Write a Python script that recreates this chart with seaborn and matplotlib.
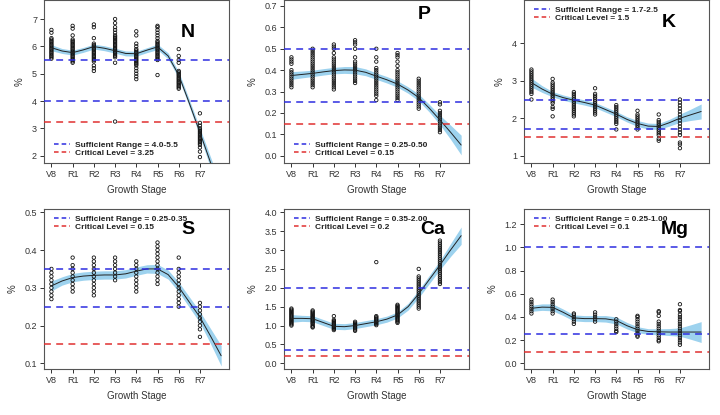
import numpy as np
import pandas as pd
import seaborn as sns
import matplotlib
matplotlib.use('Agg')
import matplotlib.pyplot as plt
from matplotlib.lines import Line2D

stages = ['V8', 'R1', 'R2', 'R3', 'R4', 'R5', 'R6', 'R7']
fit_x = [0, 0.5, 1, 1.5, 2, 2.5, 3, 3.5, 4, 4.5, 5, 5.5, 6, 6.5, 7, 7.5, 8]

n_obs = [
    [6.6, 6.5, 6.3, 6.25, 6.2, 6.15, 6.1, 6.05, 6.0, 5.95, 5.9, 5.85, 5.8, 5.75, 5.7, 5.65, 5.6, 5.55],
    [6.75, 6.65, 6.4, 6.25, 6.2, 6.15, 6.1, 6.05, 6.0, 5.95, 5.9, 5.85, 5.8, 5.75, 5.7, 5.65, 5.6, 5.55, 5.5, 5.45, 5.4],
    [6.8, 6.7, 6.3, 6.1, 6.05, 6.0, 5.95, 5.9, 5.85, 5.8, 5.75, 5.7, 5.65, 5.6, 5.55, 5.5, 5.45, 5.3, 5.2, 5.1],
    [7.0, 6.85, 6.7, 6.6, 6.5, 6.4, 6.35, 6.3, 6.25, 6.2, 6.15, 6.1, 6.05, 6.0, 5.95, 5.9, 5.85, 5.8, 5.75, 5.7, 5.65, 5.6, 5.4, 3.25],
    [6.55, 6.4, 6.1, 6.0, 5.9, 5.85, 5.8, 5.75, 5.7, 5.65, 5.6, 5.55, 5.5, 5.45, 5.4, 5.35, 5.3, 5.2, 5.1, 5.0, 4.9, 4.8],
    [6.75, 6.7, 6.6, 6.5, 6.4, 6.3, 6.2, 6.15, 6.1, 6.05, 6.0, 5.95, 5.9, 5.85, 5.8, 5.75, 5.7, 5.65, 5.6, 5.55, 5.5, 4.95],
    [5.9, 5.65, 5.5, 5.4, 5.1, 5.05, 5.0, 4.95, 4.9, 4.85, 4.8, 4.75, 4.7, 4.65, 4.6, 4.55, 4.5, 4.45],
    [3.55, 3.2, 3.1, 3.0, 2.95, 2.9, 2.85, 2.8, 2.75, 2.7, 2.65, 2.6, 2.55, 2.5, 2.45, 2.4, 2.3, 2.15, 1.95],
]
p_obs = [
    [0.46, 0.45, 0.44, 0.43, 0.40, 0.39, 0.38, 0.37, 0.36, 0.35, 0.34, 0.33, 0.32],
    [0.50, 0.49, 0.48, 0.47, 0.46, 0.45, 0.44, 0.43, 0.42, 0.41, 0.40, 0.39, 0.38, 0.37, 0.36, 0.35, 0.34, 0.33, 0.32],
    [0.52, 0.51, 0.50, 0.48, 0.46, 0.45, 0.44, 0.43, 0.42, 0.41, 0.40, 0.39, 0.38, 0.37, 0.36, 0.35, 0.34, 0.33, 0.32, 0.31],
    [0.54, 0.53, 0.52, 0.50, 0.46, 0.44, 0.43, 0.42, 0.41, 0.40, 0.39, 0.38, 0.37, 0.36, 0.35, 0.34],
    [0.50, 0.46, 0.44, 0.41, 0.40, 0.39, 0.38, 0.37, 0.36, 0.35, 0.34, 0.33, 0.32, 0.31, 0.30, 0.29, 0.28, 0.26],
    [0.48, 0.47, 0.46, 0.44, 0.42, 0.40, 0.39, 0.38, 0.37, 0.36, 0.35, 0.34, 0.33, 0.32, 0.31, 0.30, 0.29, 0.28, 0.27, 0.26],
    [0.36, 0.35, 0.34, 0.33, 0.32, 0.31, 0.30, 0.29, 0.28, 0.27, 0.26, 0.25, 0.24, 0.23, 0.22],
    [0.25, 0.24, 0.21, 0.20, 0.19, 0.18, 0.17, 0.16, 0.15, 0.14, 0.13, 0.12, 0.11],
]
k_obs = [
    [3.3, 3.25, 3.2, 3.15, 3.1, 3.05, 3.0, 2.95, 2.9, 2.85, 2.8, 2.75, 2.7, 2.65, 2.5],
    [3.05, 2.95, 2.9, 2.85, 2.8, 2.75, 2.7, 2.65, 2.6, 2.55, 2.5, 2.45, 2.4, 2.3, 2.25, 2.05],
    [2.7, 2.65, 2.6, 2.55, 2.5, 2.45, 2.4, 2.35, 2.3, 2.25, 2.2, 2.15, 2.1, 2.05],
    [2.8, 2.65, 2.6, 2.55, 2.5, 2.45, 2.4, 2.35, 2.3, 2.25, 2.2, 2.15, 2.1],
    [2.35, 2.3, 2.25, 2.2, 2.15, 2.1, 2.05, 2.0, 1.95, 1.9, 1.85, 1.7],
    [2.2, 2.1, 2.05, 2.0, 1.95, 1.9, 1.85, 1.8, 1.75, 1.7],
    [2.1, 1.95, 1.9, 1.85, 1.8, 1.75, 1.7, 1.65, 1.6, 1.55, 1.45, 1.4],
    [2.5, 2.42, 2.34, 2.26, 2.18, 2.1, 2.02, 1.94, 1.86, 1.78, 1.7, 1.62, 1.55, 1.35, 1.3, 1.2],
]
s_obs = [
    [0.35, 0.34, 0.33, 0.32, 0.31, 0.30, 0.29, 0.28, 0.27],
    [0.38, 0.36, 0.35, 0.34, 0.33, 0.32, 0.31, 0.30, 0.29],
    [0.38, 0.37, 0.36, 0.35, 0.34, 0.33, 0.32, 0.31, 0.30, 0.29, 0.28],
    [0.38, 0.37, 0.36, 0.35, 0.34, 0.33, 0.32],
    [0.37, 0.36, 0.35, 0.34, 0.33, 0.32, 0.31, 0.30, 0.29],
    [0.42, 0.41, 0.40, 0.39, 0.38, 0.37, 0.36, 0.35, 0.34, 0.33, 0.32, 0.31],
    [0.38, 0.35, 0.34, 0.33, 0.32, 0.31, 0.30, 0.29, 0.28, 0.27, 0.26, 0.25],
    [0.26, 0.25, 0.24, 0.23, 0.22, 0.21, 0.20, 0.19, 0.17],
]
ca_obs = [
    [1.45, 1.42, 1.39, 1.36, 1.33, 1.3, 1.27, 1.24, 1.21, 1.18, 1.15, 1.12, 1.09, 1.06, 1.03, 1.0],
    [1.4, 1.37, 1.34, 1.31, 1.28, 1.25, 1.22, 1.19, 1.16, 1.13, 1.1, 1.07, 1.04, 1.0, 0.97, 0.95],
    [1.25, 1.15, 1.12, 1.09, 1.06, 1.03, 1.0, 0.97, 0.94, 0.91, 0.88],
    [1.1, 1.07, 1.04, 1.01, 0.98, 0.95, 0.92, 0.89, 0.86],
    [2.68, 1.25, 1.22, 1.19, 1.16, 1.13, 1.1, 1.07, 1.04, 1.01],
    [1.55, 1.52, 1.49, 1.46, 1.43, 1.4, 1.37, 1.34, 1.31, 1.28, 1.25, 1.22, 1.19, 1.16, 1.13, 1.1, 1.07],
    [2.5, 2.3, 2.25, 2.2, 2.15, 2.1, 2.05, 2.0, 1.95, 1.9, 1.85, 1.8, 1.75, 1.7, 1.65, 1.6, 1.55, 1.5, 1.45],
    [3.25, 3.2, 3.15, 3.1, 3.05, 3.0, 2.95, 2.9, 2.85, 2.8, 2.75, 2.7, 2.65, 2.6, 2.55, 2.5, 2.45, 2.4, 2.35, 2.3, 2.25, 2.2, 2.15, 2.1],
]
mg_obs = [
    [0.55, 0.53, 0.51, 0.49, 0.47, 0.45, 0.43],
    [0.55, 0.53, 0.51, 0.49, 0.47, 0.45, 0.43],
    [0.43, 0.42, 0.40, 0.38, 0.36, 0.34],
    [0.44, 0.42, 0.40, 0.38, 0.36],
    [0.38, 0.36, 0.34, 0.32, 0.30, 0.28, 0.27],
    [0.41, 0.40, 0.38, 0.36, 0.34, 0.32, 0.30, 0.28, 0.26, 0.24, 0.23],
    [0.45, 0.44, 0.41, 0.36, 0.34, 0.32, 0.30, 0.28, 0.26, 0.24, 0.22, 0.20, 0.19],
    [0.51, 0.46, 0.45, 0.42, 0.40, 0.38, 0.36, 0.34, 0.32, 0.30, 0.28, 0.26, 0.24, 0.22, 0.20, 0.18, 0.16],
]

# smoothed fit and band half-width at fit_x
n_fit = [5.95, 5.83, 5.77, 5.87, 5.99, 5.93, 5.84, 5.74, 5.73, 5.86, 5.98, 5.65, 4.95, 3.92, 2.85, 1.75, 0.65]
n_se = [0.11, 0.09, 0.09, 0.09, 0.09, 0.09, 0.09, 0.09, 0.09, 0.09, 0.1, 0.11, 0.12, 0.13, 0.15, 0.2, 0.25]
p_fit = [0.375, 0.38, 0.385, 0.392, 0.398, 0.401, 0.40, 0.39, 0.372, 0.355, 0.335, 0.307, 0.272, 0.222, 0.167, 0.11, 0.05]
p_se = [0.018, 0.016, 0.015, 0.015, 0.015, 0.016, 0.017, 0.016, 0.015, 0.015, 0.015, 0.015, 0.016, 0.018, 0.022, 0.033, 0.046]
k_fit = [2.95, 2.78, 2.64, 2.55, 2.48, 2.42, 2.35, 2.23, 2.11, 1.97, 1.86, 1.79, 1.78, 1.88, 2.0, 2.09, 2.18]
k_se = [0.12, 0.09, 0.07, 0.07, 0.07, 0.07, 0.07, 0.07, 0.07, 0.07, 0.08, 0.08, 0.08, 0.09, 0.11, 0.15, 0.2]
s_fit = [0.305, 0.318, 0.327, 0.331, 0.333, 0.334, 0.334, 0.337, 0.344, 0.35, 0.35, 0.335, 0.302, 0.262, 0.222, 0.172, 0.12]
s_se = [0.013, 0.011, 0.011, 0.011, 0.011, 0.011, 0.011, 0.011, 0.011, 0.011, 0.012, 0.012, 0.013, 0.014, 0.015, 0.02, 0.027]
ca_fit = [1.19, 1.19, 1.18, 1.08, 0.98, 0.97, 1.0, 1.05, 1.1, 1.17, 1.28, 1.5, 1.84, 2.22, 2.6, 3.0, 3.38]
ca_se = [0.1, 0.08, 0.08, 0.08, 0.08, 0.08, 0.08, 0.08, 0.08, 0.08, 0.08, 0.09, 0.1, 0.11, 0.12, 0.17, 0.23]
mg_fit = [0.475, 0.485, 0.483, 0.44, 0.392, 0.386, 0.386, 0.384, 0.37, 0.325, 0.29, 0.275, 0.272, 0.27, 0.27, 0.27, 0.27]
mg_se = [0.026, 0.028, 0.03, 0.028, 0.026, 0.026, 0.026, 0.028, 0.03, 0.028, 0.026, 0.024, 0.026, 0.03, 0.036, 0.062, 0.09]

panels = [
    # name, obs, fit, se, sufficient range, critical, ylim, ticks, tick fmt, legend loc
    ('N', n_obs, n_fit, n_se, (4.0, 5.5), 3.25, (1.733, 7.695), np.arange(2, 8, 1), '{:.0f}',
     'Sufficient Range = 4.0-5.5', 'Critical Level = 3.25', 'lower'),
    ('P', p_obs, p_fit, p_se, (0.25, 0.50), 0.15, (-0.034, 0.728), np.arange(0, 0.71, 0.1), '{:.1f}',
     'Sufficient Range = 0.25-0.50', 'Critical Level = 0.15', 'lower'),
    ('K', k_obs, k_fit, k_se, (1.7, 2.5), 1.5, (0.805, 5.156), np.arange(1, 5, 1), '{:.0f}',
     'Sufficient Range = 1.7-2.5', 'Critical Level = 1.5', 'upper'),
    ('S', s_obs, s_fit, s_se, (0.25, 0.35), 0.15, (0.0849, 0.5087), np.arange(0.1, 0.51, 0.1), '{:.1f}',
     'Sufficient Range = 0.25-0.35', 'Critical Level = 0.15', 'upper'),
    ('Ca', ca_obs, ca_fit, ca_se, (0.35, 2.0), 0.2, (-0.151, 4.087), np.arange(0, 4.01, 0.5), '{:.1f}',
     'Sufficient Range = 0.35-2.00', 'Critical Level = 0.2', 'upper'),
    ('Mg', mg_obs, mg_fit, mg_se, (0.25, 1.0), 0.1, (-0.049, 1.332), np.arange(0, 1.21, 0.2), '{:.1f}',
     'Sufficient Range = 0.25-1.00', 'Critical Level = 0.1', 'upper'),
]
letter_pos = [(0.78, 0.80), (0.76, 0.91), (0.78, 0.865), (0.78, 0.875), (0.805, 0.875), (0.815, 0.875)]

sns.set_style('ticks')
plt.rcParams['font.family'] = ['Liberation Sans', 'DejaVu Sans']

W, H = 720, 415
fig = plt.figure(figsize=(W / 100, H / 100), dpi=100)

col_left = [44, 284, 524]
row_box = [(0, 163), (209, 369)]
blue = '#2e2ee0'
red = '#e03030'
band = '#9dd2ee'
frame = '#555555'

for i, (name, obs, fit, se, suff, crit, ylim, ticks, fmt, lab1, lab2, loc) in enumerate(panels):
    r, c = divmod(i, 3)
    top, bot = row_box[r]
    ax = fig.add_axes([col_left[c] / W, 1 - bot / H, 185 / W, (bot - top) / H])

    df = pd.DataFrame({
        'pos': [j for j, vals in enumerate(obs) for _ in vals],
        'value': [v for vals in obs for v in vals],
    })
    fit_arr = np.array(fit)
    se_arr = np.array(se)
    ax.fill_between(fit_x, fit_arr - se_arr, fit_arr + se_arr, color=band, lw=0, zorder=1)
    sns.scatterplot(data=df, x='pos', y='value', ax=ax, marker='o', s=6,
                    facecolors='none', edgecolor='#111111', linewidth=0.6, zorder=2)
    sns.lineplot(x=fit_x, y=fit, ax=ax, color='#222222', lw=0.7, zorder=3)

    for v in suff:
        ax.axhline(v, color=blue, lw=1.1, ls=(0, (4.5, 3.5)), zorder=4)
    ax.axhline(crit, color=red, lw=1.1, ls=(0, (4.5, 3.5)), zorder=4)

    ax.set_xlim(-0.35, 8.37)
    ax.set_ylim(*ylim)
    ax.set_xticks(range(len(stages)))
    ax.set_xticklabels(stages)
    ax.set_yticks(ticks)
    ax.set_yticklabels([fmt.format(t) for t in ticks])
    ax.tick_params(axis='both', labelsize=6.5, length=3, width=0.7, colors='#333333', pad=2)
    for sp in ax.spines.values():
        sp.set_visible(True)
        sp.set_color(frame)
        sp.set_linewidth(0.8)
    ax.set_xlabel('Growth Stage', fontsize=7, color='#333333', labelpad=4)
    ax.set_ylabel('%', fontsize=7, color='#333333', labelpad=5)

    handles = [Line2D([], [], color=blue, lw=1.1, ls=(0, (3, 2))),
               Line2D([], [], color=red, lw=1.1, ls=(0, (3, 2)))]
    if loc == 'lower':
        leg = ax.legend(handles, [lab1, lab2], loc='lower left', bbox_to_anchor=(0.02, 0.0),
                        frameon=False, handlelength=2.0, handletextpad=0.6, labelspacing=0.05,
                        borderpad=0.2, prop={'size': 6, 'weight': 'bold'})
    else:
        leg = ax.legend(handles, [lab1, lab2], loc='upper left', bbox_to_anchor=(0.02, 1.0),
                        frameon=False, handlelength=2.0, handletextpad=0.6, labelspacing=0.05,
                        borderpad=0.2, prop={'size': 6, 'weight': 'bold'})
    for t in leg.get_texts():
        t.set_color('#222222')

    lx, ly = letter_pos[i]
    ax.text(lx, ly, name, transform=ax.transAxes, ha='center', va='center',
            fontsize=14, fontweight='bold', color='black')

fig.savefig('out.png', dpi=100)
